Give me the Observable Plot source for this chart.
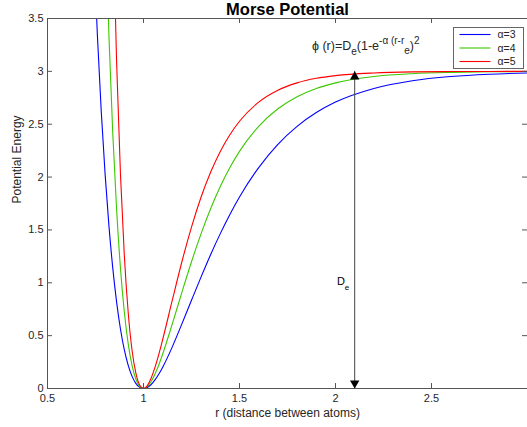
<!DOCTYPE html>
<html><head><meta charset="utf-8">
<script src="https://cdn.jsdelivr.net/npm/d3@7"></script>
<script src="https://cdn.jsdelivr.net/npm/@observablehq/plot@0.6"></script>
<style>body{margin:0;background:#fff} #chart{position:relative;width:527px;height:427px}</style>
</head><body><div id="chart"></div>
<script>
// Series labels and colours
const seriesLabels = ["α=3", "α=4", "α=5"];
const seriesColors = ["#0000ff", "#3cc800", "#ff0000"];

// alpha = 3
const r3 = [0.74,0.76,0.78,0.80,0.82,0.84,0.86,0.88,0.90,0.92,0.94,0.96,0.98,1.00,1.02,1.04,1.06,1.08,1.10,1.15,1.20,1.25,1.30,1.35,1.40,1.45,1.50,1.6,1.7,1.8,1.9,2.0,2.2,2.4,2.6,2.8,3.0];
const v3 = [4.188,3.335,2.621,2.028,1.538,1.139,0.817,0.563,0.367,0.221,0.117,0.049,0.011,0,0.010,0.038,0.081,0.137,0.202,0.394,0.611,0.835,1.056,1.268,1.465,1.646,1.811,2.090,2.310,2.480,2.610,2.709,2.838,2.911,2.951,2.973,2.985];
// alpha = 4
const r4 = [0.80,0.82,0.84,0.86,0.88,0.90,0.92,0.94,0.96,0.98,1.00,1.02,1.04,1.06,1.08,1.10,1.15,1.20,1.25,1.30,1.35,1.40,1.45,1.50,1.6,1.7,1.8,1.9,2.0,2.2,2.4,2.6,2.8,3.0];
const v4 = [4.506,3.335,2.411,1.691,1.139,0.726,0.427,0.221,0.090,0.021,0,0.018,0.066,0.137,0.225,0.326,0.611,0.910,1.199,1.465,1.703,1.911,2.090,2.243,2.480,2.646,2.760,2.838,2.891,2.951,2.978,2.990,2.996,2.998];
// alpha = 5
const r5 = [0.84,0.86,0.88,0.90,0.92,0.94,0.96,0.98,1.00,1.02,1.04,1.06,1.08,1.10,1.15,1.20,1.25,1.30,1.35,1.40,1.45,1.50,1.6,1.7,1.8,1.9,2.0,2.2,2.4,2.6,2.8,3.0];
const v5 = [4.506,3.083,2.028,1.262,0.726,0.367,0.147,0.033,0,0.027,0.099,0.202,0.326,0.464,0.835,1.199,1.527,1.811,2.048,2.243,2.401,2.528,2.709,2.822,2.891,2.934,2.960,2.985,2.995,2.998,2.999,3.000];

// Ticks
const xTicks = [0.5, 1, 1.5, 2, 2.5];
const yTicks = [0, 0.5, 1, 1.5, 2, 2.5, 3, 3.5];

// Annotation values
const De = 3;
const arrowR = 2.1;
const formulaAt = [1.88, 3.198];
const deLabelAt = [2.01, 0.974];

const rows = [];
[[r3, v3], [r4, v4], [r5, v5]].forEach(([rs, vs], i) =>
  rs.forEach((r, j) => rows.push({r, v: vs[j], s: seriesLabels[i]})));

const font = "'Liberation Sans', Arial, Helvetica, sans-serif";
const axisColor = "#555";

const chart = Plot.plot({
  width: 527, height: 427,
  marginLeft: 47, marginRight: 0, marginTop: 18, marginBottom: 39,
  style: {fontFamily: font, fontSize: "11px", color: "#262626", background: "#fff", overflow: "visible"},
  x: {domain: [0.5, 3]},
  y: {domain: [0, 3.5]},
  color: {domain: seriesLabels, range: seriesColors},
  marks: [
    Plot.line(rows, {x: "r", y: "v", stroke: "s", curve: "monotone-x", strokeWidth: 1.1, clip: true}),
    Plot.frame({stroke: axisColor}),
    Plot.ruleX(xTicks, {x: d => d, y1: 0, y2: 0.047, stroke: axisColor}),
    Plot.ruleX(xTicks, {x: d => d, y1: 3.5, y2: 3.453, stroke: axisColor}),
    Plot.ruleY(yTicks, {y: d => d, x1: 0.5, x2: 0.526, stroke: axisColor}),
    Plot.ruleY(yTicks, {y: d => d, x1: 3.0, x2: 2.974, stroke: axisColor}),
    Plot.axisX({ticks: xTicks, tickSize: 0, tickPadding: 6, label: null, tickFormat: d => String(d)}),
    Plot.axisY({ticks: yTicks, tickSize: 0, tickPadding: 4, label: null, tickFormat: d => String(d)}),
    Plot.ruleX([arrowR], {x: d => d, y1: 0, y2: De, stroke: "#444"}),
    Plot.dot([De], {x: () => arrowR, y: d => d, symbol: "triangle", r: 3.5, fill: "black", stroke: "none", dy: 5.4}),
    Plot.dot([0], {x: () => arrowR, y: d => d, symbol: "triangle", r: 3.5, fill: "black", stroke: "none", rotate: 180, dy: -5.4}),
    Plot.text(["Morse Potential"], {text: d => d, frameAnchor: "top", dy: -15, fontWeight: "bold", fontSize: 16.5, fill: "#000"}),
    Plot.text(["r (distance between atoms)"], {text: d => d, frameAnchor: "bottom", dy: 28, fontSize: 12, fill: "#262626"}),
    Plot.text(["Potential Energy"], {text: d => d, frameAnchor: "left", dx: -30, rotate: -90, fontSize: 12, fill: "#262626"})
  ]
});
document.getElementById("chart").appendChild(chart);

const sx = chart.scale("x").apply, sy = chart.scale("y").apply;
const svg = d3.select(chart);

// Formula annotation
const f = svg.append("text").attr("x", sx(formulaAt[0])).attr("y", sy(formulaAt[1]))
  .attr("text-anchor", "start").attr("font-family", font).attr("font-size", 12.5).attr("fill", "#262626");
const parts = [
  ["ϕ (r)=D", 0, 12.5], ["e", 5, 10], ["(1-e", -5, 12.5], ["-α (r-r", -6, 10], ["e", 10, 10], [")", -4, 12.5], ["2", -6, 10]
];
parts.forEach(([t, dy, fs]) => f.append("tspan").attr("dy", dy).attr("font-size", fs).text(t));

// D_e label
const d = svg.append("text").attr("x", sx(deLabelAt[0])).attr("y", sy(deLabelAt[1]))
  .attr("text-anchor", "start").attr("font-family", font).attr("font-size", 11).attr("fill", "#000");
d.append("tspan").text("D");
d.append("tspan").attr("dy", 5).attr("font-size", 8).text("e");

// Legend
const lg = svg.append("g").attr("transform", "translate(453.5,27.5)");
lg.append("rect").attr("width", 70).attr("height", 41).attr("fill", "#fff").attr("stroke", "#666");
seriesLabels.forEach((lab, i) => {
  const y = 7 + i * 13.5;
  lg.append("line").attr("x1", 6).attr("x2", 37).attr("y1", y).attr("y2", y).attr("stroke", seriesColors[i]).attr("stroke-width", 1.1);
  lg.append("text").attr("x", 44).attr("y", y).attr("dy", "0.35em").attr("text-anchor", "start")
    .attr("font-family", font).attr("font-size", 10.5).attr("fill", "#262626").text(lab);
});
</script>
</body></html>
